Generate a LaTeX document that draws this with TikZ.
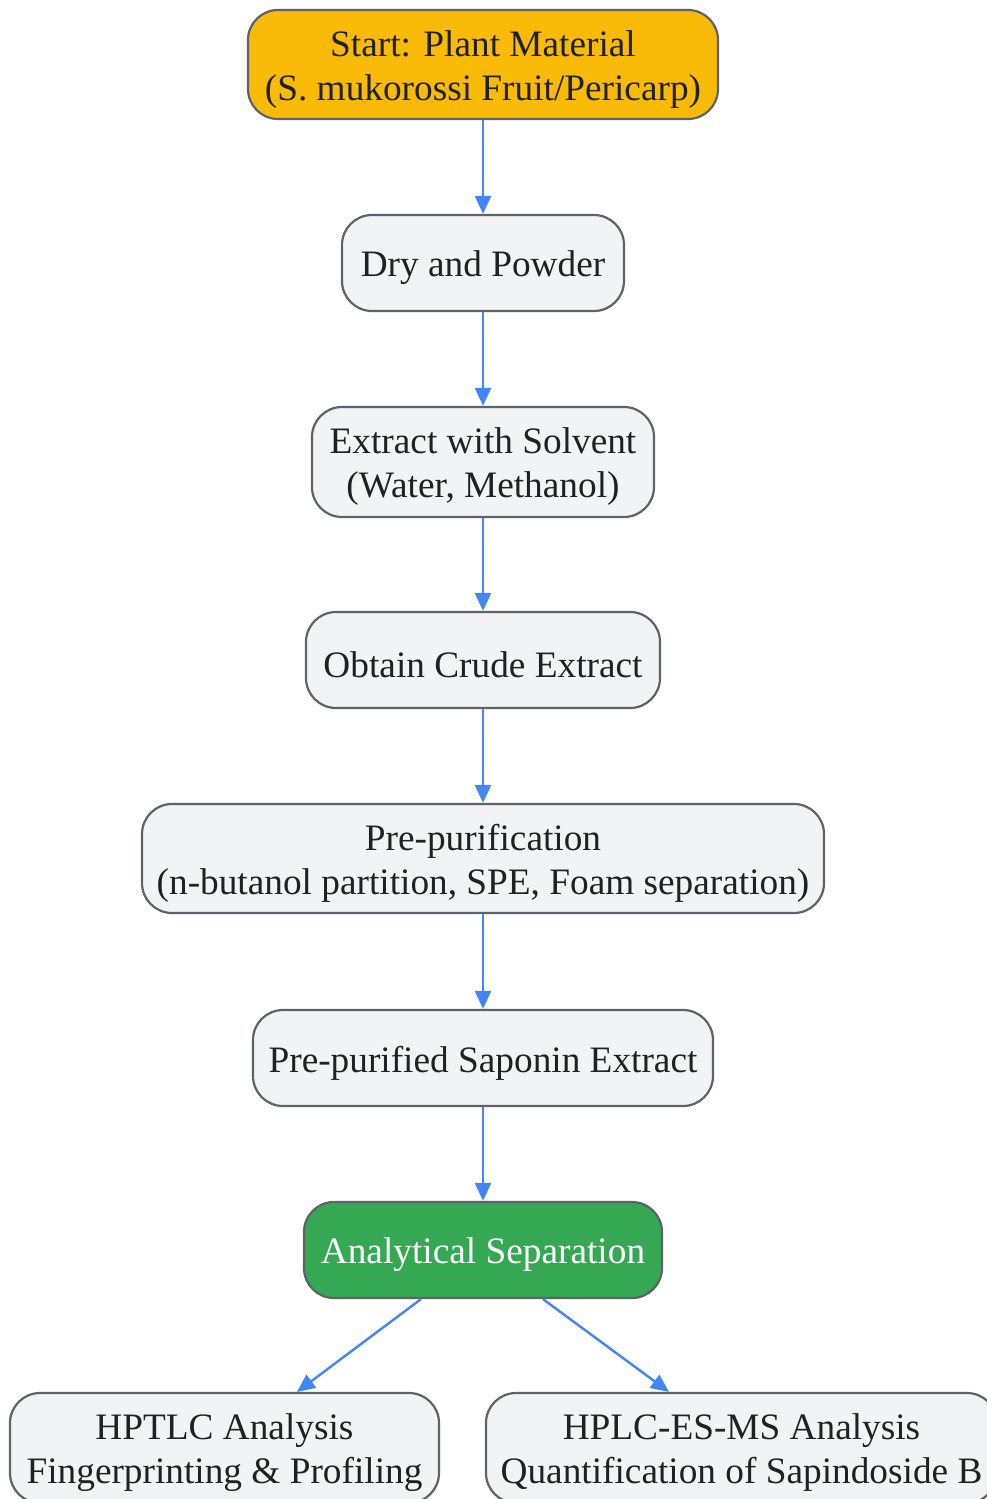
\documentclass[tikz,border=0pt]{standalone}
\usepackage{fontspec}
\setmainfont{Liberation Serif}
\usetikzlibrary{arrows.meta}
\definecolor{gbord}{HTML}{5F6368}
\definecolor{gfill}{HTML}{F1F3F4}
\definecolor{gyel}{HTML}{F9BB07}
\definecolor{ggreen}{HTML}{34A853}
\definecolor{gblue}{HTML}{4285F4}
\definecolor{gtext}{HTML}{202124}
\tikzset{
  box/.style={draw=gbord, line width=2.2pt, fill=gfill, rounded corners=30pt, align=center,
    text=gtext, font=\fontsize{37.3}{44}\selectfont, inner sep=0pt, text depth=, text height=},
  lbl/.style={label={[align=center, text=gtext, font=\fontsize{37.3}{44}\selectfont, yshift=-5pt]center:#1}},
  conn/.style={draw=gblue, line width=2.4pt, -{Triangle[length=18pt,width=16pt]}},
}
\begin{document}
\begin{tikzpicture}[x=1pt,y=-1pt]
\useasboundingbox (0,0) rectangle (987,1499);
\clip (0,0) rectangle (987,1499);
\fill[white] (0,0) rectangle (987,1499);
\node[box, fill=gyel, minimum width=470pt, minimum height=109pt, lbl={Start: Plant Material\\(S. mukorossi Fruit/Pericarp)}] (start) at (483,64.5) {};
\node[box, minimum width=282pt, minimum height=96pt, lbl={Dry and Powder}] (dry) at (483,263) {};
\node[box, minimum width=342pt, minimum height=110pt, lbl={Extract with Solvent\\(Water, Methanol)}] (ext) at (483,462) {};
\node[box, minimum width=354pt, minimum height=96pt, lbl={Obtain Crude Extract}] (crude) at (483,660) {};
\node[box, minimum width=682pt, minimum height=109pt, lbl={Pre-purification\\(n-butanol partition, SPE, Foam separation)}] (pre) at (483,858.5) {};
\node[box, minimum width=460pt, minimum height=96pt, lbl={Pre-purified Saponin Extract}] (sap) at (483,1058) {};
\node[box, fill=ggreen, minimum width=358pt, minimum height=96pt, label={[text=white, font=\fontsize{37.3}{44}\selectfont, yshift=-5pt]center:Analytical Separation}] (an) at (483,1250) {};
\node[box, minimum width=429pt, minimum height=110pt, lbl={HPTLC Analysis\\Fingerprinting \& Profiling}] (hptlc) at (224.5,1448) {};
\node[box, minimum width=511pt, minimum height=110pt, lbl={HPLC-ES-MS Analysis\\Quantification of Sapindoside B}] (hplc) at (741.5,1448) {};
\draw[conn] (start) -- (dry);
\draw[conn] (dry) -- (ext);
\draw[conn] (ext) -- (crude);
\draw[conn] (crude) -- (pre);
\draw[conn] (pre) -- (sap);
\draw[conn] (sap) -- (an);
\draw[conn] ([xshift=-62pt]an.south) -- ([xshift=72.5pt]hptlc.north);
\draw[conn] ([xshift=60pt]an.south) -- ([xshift=-72.5pt]hplc.north);
\end{tikzpicture}
\end{document}
